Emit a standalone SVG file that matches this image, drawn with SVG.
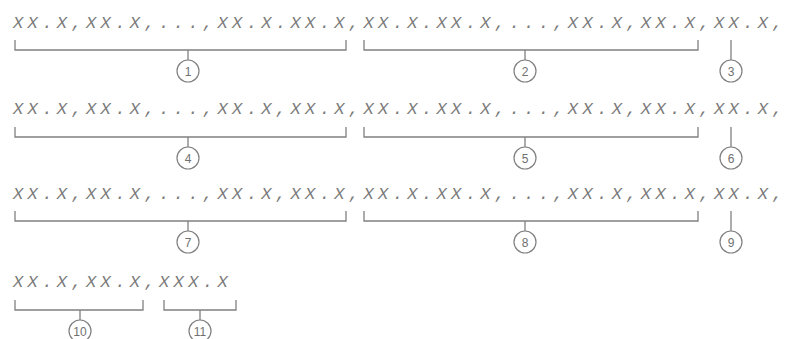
<svg xmlns="http://www.w3.org/2000/svg" width="788" height="339" viewBox="0 0 788 339">
<style>
.t{font-family:"Liberation Mono","DejaVu Sans Mono",monospace;font-style:italic;font-size:17px;letter-spacing:4.4px;fill:#7a7a7a}
.b{fill:none;stroke:#808080;stroke-width:1.3}
.c{fill:#fff;stroke:#808080;stroke-width:1.2}
.n{font-family:"Liberation Sans",Arial,sans-serif;font-size:12px;fill:#707070;text-anchor:middle}
</style>
<rect width="788" height="339" fill="#fff"/>
<g id="texts">
<text class="t" x="13" y="28">XX.X,XX.X,...,XX.X.XX.X,XX.X.XX.X,...,XX.X,XX.X,XX.X,</text>
<text class="t" x="13" y="114">XX.X,XX.X,...,XX.X,XX.X,XX.X.XX.X,...,XX.X,XX.X,XX.X,</text>
<text class="t" x="13" y="199">XX.X,XX.X,...,XX.X,XX.X,XX.X.XX.X,...,XX.X,XX.X,XX.X,</text>
<text class="t" x="13" y="287">XX.X,XX.X,XXX.X</text>
</g>
<g id="connectors">
<path class="b" d="M15,40V50H346V40M188,50V60"/>
<path class="b" d="M364,40V50H698V40M525,50V60"/>
<path class="b" d="M731,40V60"/>
<path class="b" d="M15,127V137H346V127M188,137V147"/>
<path class="b" d="M364,127V137H698V127M525,137V147"/>
<path class="b" d="M731,127V147"/>
<path class="b" d="M15,211V221H346V211M188,221V231"/>
<path class="b" d="M364,211V221H698V211M525,221V231"/>
<path class="b" d="M731,211V231"/>
<path class="b" d="M15,300V310H143V300M80,310V320"/>
<path class="b" d="M164,300V310H236V300M200,310V320"/>
</g>
<g id="n1"><circle class="c" cx="188" cy="71" r="11"/><text class="n" x="188" y="75.5">1</text></g>
<g id="n2"><circle class="c" cx="525" cy="71" r="11"/><text class="n" x="525" y="75.5">2</text></g>
<g id="n3"><circle class="c" cx="731" cy="71" r="11"/><text class="n" x="731" y="75.5">3</text></g>
<g id="n4"><circle class="c" cx="188" cy="158" r="11"/><text class="n" x="188" y="162.5">4</text></g>
<g id="n5"><circle class="c" cx="525" cy="158" r="11"/><text class="n" x="525" y="162.5">5</text></g>
<g id="n6"><circle class="c" cx="731" cy="158" r="11"/><text class="n" x="731" y="162.5">6</text></g>
<g id="n7"><circle class="c" cx="188" cy="242" r="11"/><text class="n" x="188" y="246.5">7</text></g>
<g id="n8"><circle class="c" cx="525" cy="242" r="11"/><text class="n" x="525" y="246.5">8</text></g>
<g id="n9"><circle class="c" cx="731" cy="242" r="11"/><text class="n" x="731" y="246.5">9</text></g>
<g id="n10"><circle class="c" cx="80" cy="331" r="11"/><text class="n" x="80" y="335.5">10</text></g>
<g id="n11"><circle class="c" cx="200" cy="331" r="11"/><text class="n" x="200" y="335.5">11</text></g>
</svg>
